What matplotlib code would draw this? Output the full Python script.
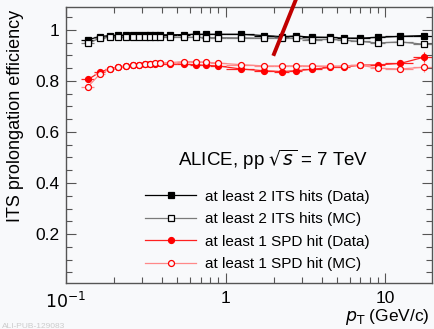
import matplotlib
matplotlib.use("Agg")
import matplotlib.pyplot as plt
from matplotlib.lines import Line2D
from matplotlib.ticker import LogLocator, MultipleLocator, FixedLocator, FixedFormatter, NullFormatter
import numpy as np

plt.rcParams['font.family'] = ['Liberation Sans', 'DejaVu Sans']

# ---- data ----
pt = [0.1375, 0.1625, 0.1875, 0.2125, 0.2375, 0.2625, 0.2875, 0.3125, 0.3375,
      0.3625, 0.3875, 0.45, 0.55, 0.65, 0.75, 0.9, 1.25, 1.75, 2.25, 2.75,
      3.5, 4.5, 5.5, 7.0, 9.0, 12.5, 17.5]
pt_err = [0.0125] * 11 + [0.05, 0.05, 0.05, 0.05, 0.1, 0.25, 0.25, 0.25, 0.25,
                          0.5, 0.5, 0.5, 1.0, 1.0, 2.5, 2.5]

its_data = [0.962, 0.974, 0.978, 0.979, 0.980, 0.980, 0.980, 0.980, 0.980,
            0.981, 0.981, 0.981, 0.982, 0.983, 0.983, 0.983, 0.983, 0.978, 0.974,
            0.976, 0.972, 0.971, 0.968, 0.968, 0.971, 0.975, 0.978]
its_mc = [0.947, 0.968, 0.972, 0.972, 0.972, 0.973, 0.973, 0.973, 0.973,
          0.973, 0.973, 0.972, 0.971, 0.971, 0.970, 0.970, 0.969, 0.968, 0.969,
          0.968, 0.962, 0.963, 0.960, 0.955, 0.949, 0.953, 0.944]
spd_data = [0.806, 0.834, 0.848, 0.855, 0.858, 0.861, 0.864, 0.866, 0.867,
            0.868, 0.869, 0.868, 0.865, 0.864, 0.861, 0.859, 0.847, 0.840, 0.837,
            0.840, 0.846, 0.853, 0.855, 0.862, 0.863, 0.869, 0.893]
spd_mc = [0.778, 0.826, 0.847, 0.855, 0.858, 0.861, 0.864, 0.866, 0.868,
          0.869, 0.870, 0.872, 0.876, 0.876, 0.874, 0.870, 0.864, 0.859, 0.859,
          0.860, 0.859, 0.858, 0.859, 0.862, 0.850, 0.847, 0.854]
its_data_err = [0.004] + [0.002] * 23 + [0.003, 0.005, 0.008]
its_mc_err = [0.004] + [0.002] * 23 + [0.004, 0.006, 0.012]
spd_data_err = [0.005] + [0.002] * 23 + [0.005, 0.01, 0.02]
spd_mc_err = [0.005] + [0.002] * 23 + [0.005, 0.01, 0.02]

labels = ["at least 2 ITS hits (Data)", "at least 2 ITS hits (MC)",
          "at least 1 SPD hit (Data)", "at least 1 SPD hit (MC)"]

bg = '#f8f9fb'
fig = plt.figure(figsize=(4.35, 3.29), dpi=100, facecolor=bg)
ax = fig.add_axes([66/435, 1-283/329, (432-66)/435, (283-7)/329], facecolor=bg)

series = [
    (its_data, its_data_err, 'black', 's', 'black', 'black'),
    (its_mc, its_mc_err, '#7a7a7a', 's', 'none', 'black'),
    (spd_data, spd_data_err, '#ff2020', 'o', '#ff0000', '#ff0000'),
    (spd_mc, spd_mc_err, '#ff8888', 'o', 'none', '#ff0000'),
]
handles = []
for (y, ye, lc, mk, mfc, mec), lab in zip(series, labels):
    ax.plot(pt, y, '-', color=lc, lw=0.9, zorder=2)
    ax.errorbar(pt, y, xerr=pt_err, yerr=ye, fmt='none', ecolor=lc, elinewidth=0.9,
                capsize=0, zorder=2)
    ax.plot(pt, y, linestyle='none', marker=mk, ms=4.3, mfc=mfc if mfc != 'none' else bg,
            mec=mec, mew=0.9, zorder=3)
    handles.append(Line2D([], [], color=lc, lw=0.9, marker=mk, ms=4.3,
                          mfc=mfc if mfc != 'none' else bg, mec=mec, mew=0.9))

ax.set_xscale('log')
ax.set_xlim(0.1, 19.7)
ax.set_ylim(0.008, 1.09)

ax.yaxis.set_minor_locator(MultipleLocator(0.05))
ax.set_yticks([0.2, 0.4, 0.6, 0.8, 1.0])
ax.set_yticklabels(['0.2', '0.4', '0.6', '0.8', '1'])
ax.xaxis.set_major_locator(FixedLocator([0.1, 1, 10]))
ax.xaxis.set_major_formatter(FixedFormatter(['$10^{-1}$', '1', '10']))
ax.xaxis.set_minor_locator(LogLocator(base=10, subs=np.arange(2, 10)))
ax.xaxis.set_minor_formatter(NullFormatter())

for side in ax.spines.values():
    side.set_color('#555555')
    side.set_linewidth(1.0)
ax.tick_params(which='both', direction='in', top=True, right=True, colors='#555555',
               labelcolor='black', labelsize=12.5)
ax.tick_params(which='major', length=7, width=0.8)
ax.tick_params(which='minor', length=4, width=0.8)
ax.tick_params(axis='x', pad=6)
ax.tick_params(axis='y', pad=5)

leg = ax.legend(handles, labels, loc='upper left', bbox_to_anchor=(0.2, 0.36),
                frameon=False, fontsize=11, handlelength=3.3, handletextpad=0.6,
                labelspacing=0.55, borderaxespad=0)

ax.text(0.306, 0.445, r'ALICE, pp $\sqrt{s}$ = 7 TeV', transform=ax.transAxes,
        fontsize=13.5, va='center', ha='left')

fig.text(16/435, 1-116/329, 'ITS prolongation efficiency', rotation=90,
         ha='center', va='center', fontsize=13)
fig.text(430/435, 2/329, r'$p_{\mathrm{T}}$ (GeV/c)', ha='right', va='bottom',
         fontsize=12.5)
fig.text(2/435, 1-327/329, 'ALI-PUB-129083', ha='left', va='center', fontsize=6,
         color='#cccccc')

# red slash annotation
fig.add_artist(Line2D([295.7/435, 274/435], [1-0/329, 1-54/329],
                      transform=fig.transFigure, color='#c00000', lw=2.8))

fig.savefig('out.png', dpi=100, facecolor=bg)
